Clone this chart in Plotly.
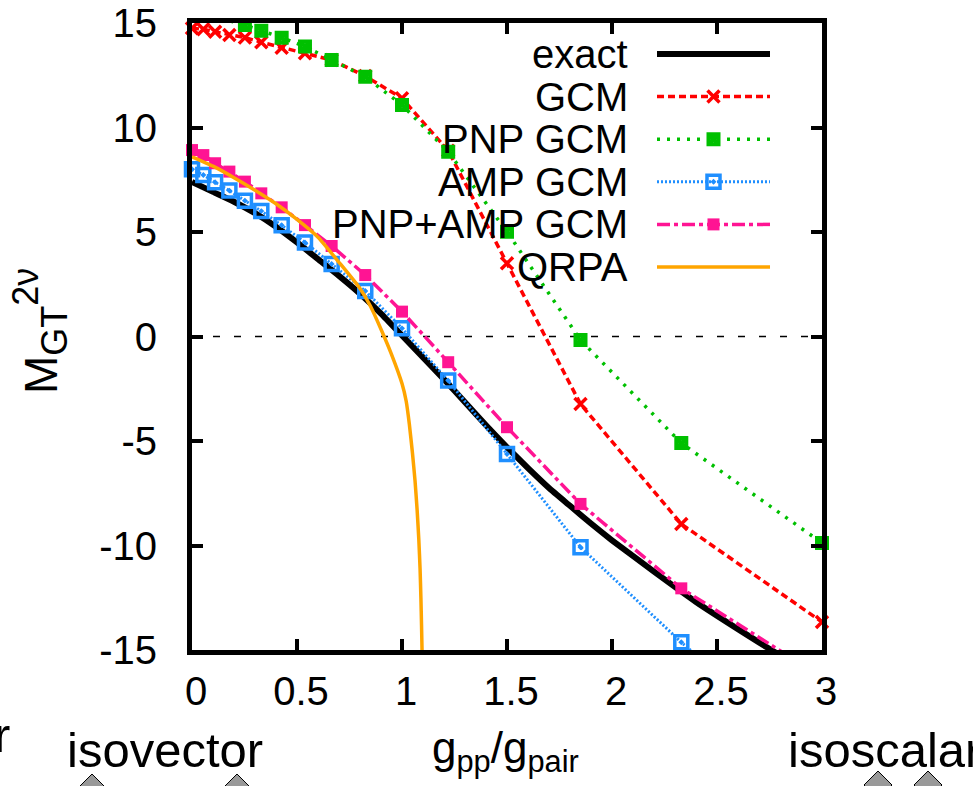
import plotly.graph_objects as go

# ---------------- data ----------------
g_gcm = [0, 0.054, 0.11, 0.178, 0.252, 0.33, 0.427, 0.538, 0.665, 0.825,
         1.0, 1.22, 1.5, 1.85, 2.33, 3.0]
m_gcm = [14.75, 14.70, 14.58, 14.43, 14.30, 14.08, 13.82, 13.55, 13.23, 12.46,
         11.40, 8.89, 3.50, -3.23, -8.97, -13.66]
m_pnp_gcm = [15.6, 15.45, 15.3, 15.12, 14.90, 14.63, 14.30, 13.87, 13.23, 12.43,
             11.08, 8.84, 5.01, -0.17, -5.10, -9.88]
m_amp_gcm = [8.0, 7.73, 7.38, 6.98, 6.50, 6.00, 5.32, 4.50, 3.47, 2.18,
             0.39, -2.11, -5.62, -10.08, -14.63, -20.5]
m_pnp_amp_gcm = [8.92, 8.68, 8.29, 7.89, 7.41, 6.85, 6.18, 5.33, 4.33, 2.94,
                 1.19, -1.23, -4.34, -8.01, -12.05, -16.3]

g_exact = [0, 0.1, 0.2, 0.3, 0.4, 0.5, 0.6, 0.7, 0.8, 0.9, 1.0, 1.1, 1.2, 1.3,
           1.4, 1.5, 1.6, 1.7, 1.8, 1.9, 2.0, 2.2, 2.4, 2.6, 2.8, 3.0]
m_exact = [7.4, 6.92, 6.45, 5.9, 5.25, 4.5, 3.7, 2.9, 2.05, 1.1, 0.05, -1.0,
           -2.05, -3.15, -4.25, -5.3, -6.3, -7.25, -8.1, -8.95, -9.75, -11.25,
           -12.7, -14.0, -15.25, -16.4]

g_qrpa = [0, 0.1, 0.2, 0.3, 0.4, 0.5, 0.6, 0.7, 0.8, 0.85, 0.9, 0.95, 1.0,
          1.02, 1.035, 1.05, 1.062, 1.072, 1.08, 1.086, 1.09, 1.093, 1.096]
m_qrpa = [8.6, 8.15, 7.6, 7.0, 6.35, 5.6, 4.75, 3.55, 2.3, 1.45, 0.35, -0.85,
          -2.25, -3.1, -4.2, -5.6, -6.9, -8.3, -9.7, -11.1, -12.5, -13.8, -15.3]

x_ticks = [0, 0.5, 1, 1.5, 2, 2.5, 3]
x_ticklabels = ["0", "0.5", "1", "1.5", "2", "2.5", "3"]
y_ticks = [-15, -10, -5, 0, 5, 10, 15]
y_ticklabels = ["-15", "-10", "-5", "0", "5", "10", "15"]
legend_names = ["exact", "GCM", "PNP GCM", "AMP GCM", "PNP+AMP GCM", "QRPA"]

# ---------------- styling ----------------
FONT = "Liberation Sans, Arial, Helvetica, sans-serif"
L, R, T, B = 192, 822, 23, 650
W, H = 973, 786
XR = [0, 3]
YR = [-15, 15]


def px(x):
    return (x - L) / (R - L)


def py(y):
    return (B - y) / (B - T)


styles = {
    "exact": dict(color="#000000", width=6, dash="solid", symbol=None),
    "GCM": dict(color="#ff0000", width=3.5, dash="7px,4px", symbol="x-thin",
                msize=12, mline=3.5),
    "PNP GCM": dict(color="#00c000", width=3.5, dash="3px,7px",
                    symbol="square-x-open", msize=10, mline=4),
    "AMP GCM": dict(color="#1f8fff", width=3, dash="2px,2px",
                    symbol="square-open-dot", msize=13, mline=3.5),
    "PNP+AMP GCM": dict(color="#ff1493", width=3.5, dash="13px,4px,4px,4px",
                        symbol="square", msize=12, mline=0),
    "QRPA": dict(color="#ffa500", width=3.5, dash="solid", symbol=None),
}

series = {
    "exact": (g_exact, m_exact),
    "GCM": (g_gcm, m_gcm),
    "PNP GCM": (g_gcm, m_pnp_gcm),
    "AMP GCM": (g_gcm, m_amp_gcm),
    "PNP+AMP GCM": (g_gcm, m_pnp_amp_gcm),
    "QRPA": (g_qrpa, m_qrpa),
}

fig = go.Figure()

for name in legend_names:
    xs, ys = series[name]
    st = styles[name]
    fig.add_trace(go.Scatter(
        x=xs, y=ys, mode="lines", showlegend=False,
        line=dict(color=st["color"], width=st["width"], dash=st["dash"],
                  shape="spline" if st["symbol"] is None else "linear",
                  smoothing=0.5),
        hoverinfo="skip"))
    if st["symbol"]:
        inside = [(a, b) for a, b in zip(xs, ys) if YR[0] <= b <= YR[1]]
        fig.add_trace(go.Scatter(
            x=[p[0] for p in inside], y=[p[1] for p in inside],
            mode="markers", showlegend=False, cliponaxis=False,
            marker=dict(symbol=st["symbol"], size=st["msize"], color=st["color"],
                        line=dict(color=st["color"], width=st["mline"])),
            hoverinfo="skip"))

# ---------------- legend (gnuplot style: text left, sample right) --------------
leg_top, leg_step = 54, 42.6
samp_x0, samp_x1, text_right = 657, 770, 630
annotations = []
for i, name in enumerate(legend_names):
    st = styles[name]
    yy = leg_top + i * leg_step
    fig.add_trace(go.Scatter(
        x=[samp_x0, samp_x1], y=[yy, yy], xaxis="x2", yaxis="y2",
        mode="lines", showlegend=False, hoverinfo="skip",
        line=dict(color=st["color"], width=st["width"], dash=st["dash"])))
    if st["symbol"]:
        fig.add_trace(go.Scatter(
            x=[(samp_x0 + samp_x1) / 2], y=[yy], xaxis="x2", yaxis="y2",
            mode="markers", showlegend=False, hoverinfo="skip", cliponaxis=False,
            marker=dict(symbol=st["symbol"], size=st["msize"], color=st["color"],
                        line=dict(color=st["color"], width=st["mline"]))))
    annotations.append(dict(
        x=text_right, y=yy, xref="x2", yref="y2", text=name, showarrow=False,
        xanchor="right", yanchor="middle",
        font=dict(family=FONT, size=40, color="black")))

# axis titles and side labels
annotations.append(dict(
    x=px(40), y=py(331), xref="paper", yref="paper",
    text=("M<sub><span style=\"font-size:36px\">GT</span></sub>"
          "<sup><span style=\"font-size:36px\">2ν</span></sup>"),
    textangle=-90, showarrow=False,
    xanchor="center", yanchor="middle",
    font=dict(family=FONT, size=46, color="black")))
annotations.append(dict(
    x=px(505), y=py(751), xref="paper", yref="paper",
    text="g<sub>pp</sub>/g<sub>pair</sub>", showarrow=False,
    xanchor="center", yanchor="middle",
    font=dict(family=FONT, size=44, color="black")))
annotations.append(dict(
    x=px(165), y=py(750), xref="paper", yref="paper", text="isovector",
    showarrow=False, xanchor="center", yanchor="middle",
    font=dict(family=FONT, size=49, color="black")))
annotations.append(dict(
    x=px(786), y=py(750), xref="paper", yref="paper", text="isoscalar",
    showarrow=False, xanchor="left", yanchor="middle",
    font=dict(family=FONT, size=49, color="black")))
annotations.append(dict(
    x=px(12), y=py(735), xref="paper", yref="paper", text="isoscalar",
    showarrow=False, xanchor="right", yanchor="middle",
    font=dict(family=FONT, size=49, color="black")))

shapes = [dict(type="line", xref="paper", yref="y", x0=0, x1=1, y0=0, y1=0,
               line=dict(color="black", width=1.5, dash="7px,14px"),
               layer="below")]
for cx, cy in [(92, 774), (237, 774), (878, 771), (928, 771)]:
    hw = 14
    path = "M {} {} L {} {} L {} {} L {} {} Z".format(
        px(cx), py(cy), px(cx + hw), py(cy + hw), px(cx), py(cy + 2 * hw),
        px(cx - hw), py(cy + hw))
    shapes.append(dict(type="path", xref="paper", yref="paper", path=path,
                       fillcolor="#999999", line=dict(color="black", width=1)))

axis_common = dict(showline=True, linecolor="black", linewidth=5, mirror="allticks",
                   ticks="inside", ticklen=11, tickwidth=4, tickcolor="black",
                   showgrid=False, zeroline=False, automargin=False,
                   tickfont=dict(family=FONT, size=40, color="black"))

fig.update_layout(
    width=W, height=H, autosize=False,
    margin=dict(l=L, r=W - R, t=T, b=H - B, pad=0, autoexpand=False),
    paper_bgcolor="white", plot_bgcolor="white",
    showlegend=False,
    xaxis=dict(range=XR, tickvals=x_ticks, ticktext=x_ticklabels,
               ticklabelstandoff=2, ticklabelshift=4, **axis_common),
    yaxis=dict(range=YR, tickvals=y_ticks, ticktext=y_ticklabels,
               ticklabelstandoff=22, **axis_common),
    xaxis2=dict(range=[L, R], overlaying="x", anchor="y2", visible=False),
    yaxis2=dict(range=[B, T], overlaying="y", anchor="x2", visible=False),
    annotations=annotations,
    shapes=shapes,
)

fig.write_html("out.html")
